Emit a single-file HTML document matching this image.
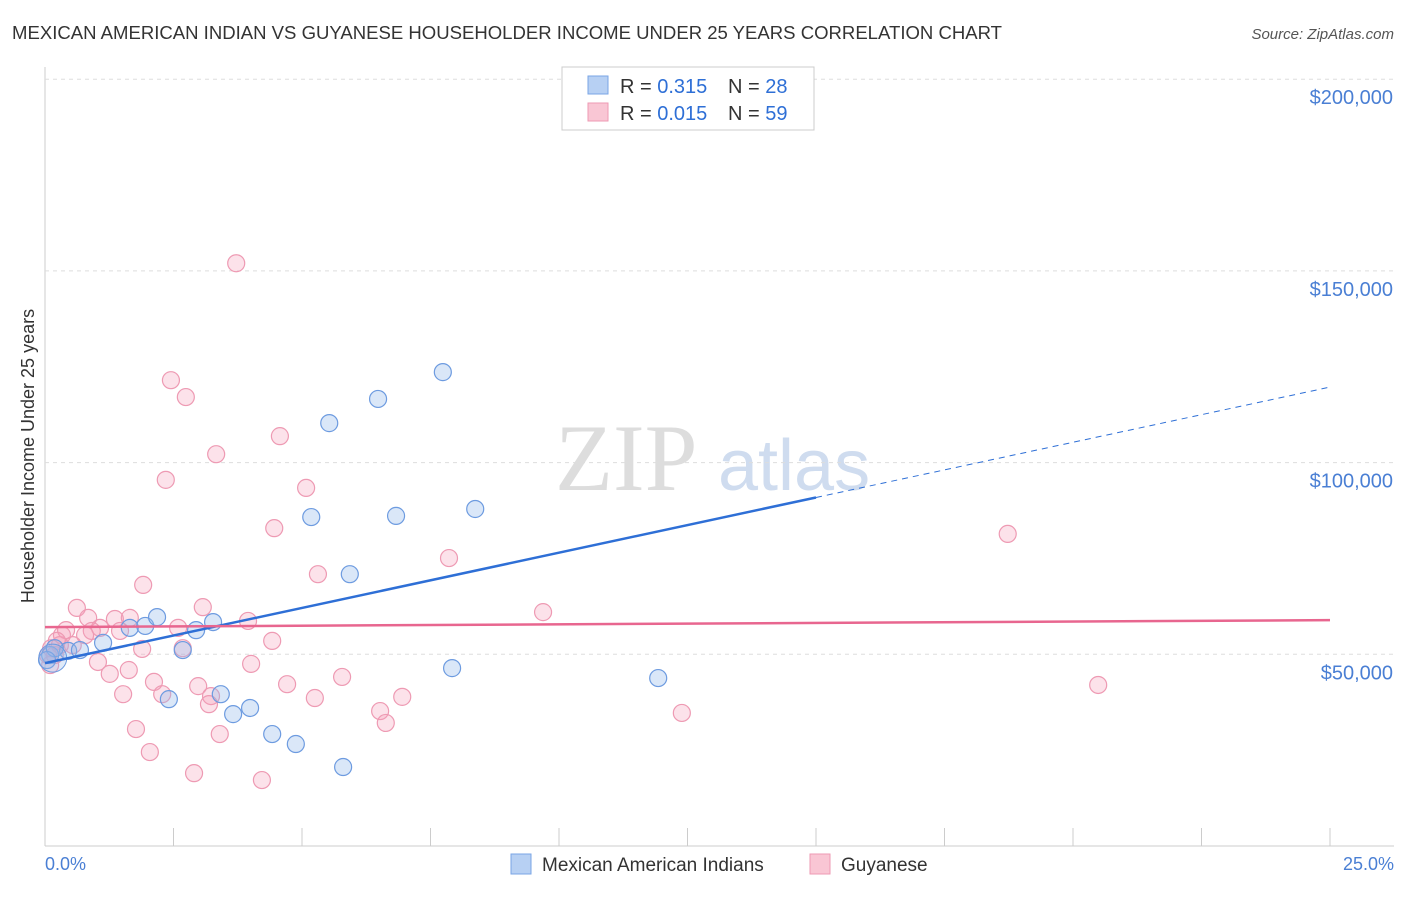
<!DOCTYPE html>
<html><head><meta charset="utf-8"><style>
body{margin:0;background:#fff;font-family:"Liberation Sans",sans-serif;}
#wrap{position:relative;width:1406px;height:892px;}
</style></head><body>
<div id="wrap">
<svg id="svg" width="1406" height="892" xmlns="http://www.w3.org/2000/svg">
<text x="12" y="39" font-size="18" fill="#333" textLength="990" lengthAdjust="spacingAndGlyphs">MEXICAN AMERICAN INDIAN VS GUYANESE HOUSEHOLDER INCOME UNDER 25 YEARS CORRELATION CHART</text>
<text x="1394" y="39" font-size="15" fill="#555" font-style="italic" text-anchor="end">Source: ZipAtlas.com</text>
<text x="34" y="456" font-size="18" fill="#333" text-anchor="middle" transform="rotate(-90 34 456)">Householder Income Under 25 years</text>
<text x="555" y="490" font-size="95" fill="#ddd" font-family="Liberation Serif">ZIP</text>
<text x="718" y="490" font-size="72" fill="#cfdcef">atlas</text>
<g id="grid"></g><g id="pts"></g><g id="lines"></g>
<text x="45" y="870" font-size="18" fill="#4a7fd4">0.0%</text>
<text x="1394" y="870" font-size="18" fill="#4a7fd4" text-anchor="end">25.0%</text>
<g>
<rect x="562" y="67" width="252" height="63" fill="#fff" stroke="#ccc"/>
<rect x="588" y="76" width="20" height="18" fill="#b7d0f3" stroke="#7aa5e6"/>
<rect x="588" y="103" width="20" height="18" fill="#f9c6d4" stroke="#ee9ab3"/>
<text x="620" y="93" font-size="20" fill="#333">R = <tspan fill="#2e6fd6">0.315</tspan></text>
<text x="728" y="93" font-size="20" fill="#333">N = <tspan fill="#2e6fd6">28</tspan></text>
<text x="620" y="120" font-size="20" fill="#333">R = <tspan fill="#2e6fd6">0.015</tspan></text>
<text x="728" y="120" font-size="20" fill="#333">N = <tspan fill="#2e6fd6">59</tspan></text>
</g>
<g>
<rect x="511" y="854" width="20" height="20" fill="#b7d0f3" stroke="#7aa5e6"/>
<text x="542" y="871" font-size="19" fill="#333">Mexican American Indians</text>
<rect x="810" y="854" width="20" height="20" fill="#f9c6d4" stroke="#ee9ab3"/>
<text x="841" y="871" font-size="19" fill="#333">Guyanese</text>
</g>
</svg></div>
<script>
const yTicks=[50000,100000,150000,200000];
const yTickLabels=["$50,000","$100,000","$150,000","$200,000"];
const blueX=[0.10,0.45,1.13,1.65,1.95,2.18,2.41,2.68,2.94,3.27,3.42,3.66,3.99,4.42,4.88,5.18,5.53,5.80,5.93,6.48,6.83,7.74,7.92,8.37,11.93,0.19,0.68,0.04];
const blueY=[49.8,50.9,53.0,56.9,57.4,59.7,38.3,51.1,56.3,58.4,39.6,34.4,36.0,29.2,26.6,85.8,110.3,20.6,70.9,116.6,86.1,123.6,46.4,87.9,43.8,51.6,51.1,48.5];
const pinkX=[3.72,2.45,2.74,3.33,4.57,2.35,5.08,4.46,7.86,5.31,1.91,0.62,3.07,9.69,3.95,0.84,1.36,1.65,2.59,1.07,0.91,1.46,0.33,0.78,0.29,0.54,0.12,1.89,2.68,0.19,1.03,4.01,1.63,1.26,2.12,2.98,4.71,5.78,2.28,1.52,3.23,5.25,6.95,3.19,6.52,6.63,1.77,3.40,2.04,2.90,4.22,12.39,18.73,20.49,4.42,0.10,0.41,0.23,0.06];
const pinkY=[152.0,121.5,117.1,102.2,106.9,95.5,93.4,82.9,75.1,70.9,68.1,62.1,62.3,61.0,58.7,59.5,59.2,59.5,56.9,56.9,56.1,56.1,55.0,55.0,52.4,52.4,51.6,51.4,51.6,49.8,48.0,47.5,45.9,44.9,42.8,41.7,42.2,44.1,39.6,39.6,39.1,38.6,38.9,37.0,35.2,32.1,30.5,29.2,24.5,19.0,17.2,34.7,81.4,42.0,53.5,47.2,56.3,53.5,49.8];
const blueTrend=[47.7,2.88];
const pinkTrend=[57.1,0.072];
const X=v=>45+v/25*1285;
const Y=v=>846-v/50000*191.7;
const NS="http://www.w3.org/2000/svg";
function mk(t,a,p){const e=document.createElementNS(NS,t);for(const k in a)e.setAttribute(k,a[k]);p.appendChild(e);return e;}
const grid=document.getElementById('grid');
mk('line',{x1:45,y1:67,x2:45,y2:846,stroke:'#ccc'},grid);
mk('line',{x1:45,y1:846,x2:1394,y2:846,stroke:'#ccc'},grid);
for(let i=1;i<=10;i++){const l=mk('line',{x1:X(i*2.5),y1:828,x2:X(i*2.5),y2:846,stroke:'#ccc'},grid);

}
yTicks.forEach((v,i)=>{const l=mk('line',{x1:45,y1:Y(v),x2:1394,y2:Y(v),stroke:'#ddd','stroke-dasharray':'4,4'},grid);


const t=mk('text',{x:1393,y:Y(v)+25,'font-size':20,fill:'#4a7fd4','text-anchor':'end'},grid);t.textContent=yTickLabels[i];

});
const pts=document.getElementById('pts');
pinkX.forEach((x,i)=>{const c=mk('circle',{cx:X(x),cy:Y(pinkY[i]*1000),r:8.5,fill:'rgba(244,160,186,0.3)',stroke:'#ee9ab3','stroke-width':1.2},pts);

});
blueX.forEach((x,i)=>{const c=mk('circle',{cx:X(x),cy:Y(blueY[i]*1000),r:8.5,fill:'rgba(150,185,235,0.35)',stroke:'#6d9be0','stroke-width':1.2},pts);

});
const big=mk('circle',{cx:X(0.15),cy:Y(49000),r:14,fill:'rgba(150,185,235,0.3)',stroke:'#6d9be0'},pts);


const lines=document.getElementById('lines');
const bt=x=>(blueTrend[0]+blueTrend[1]*x)*1000, pt=x=>(pinkTrend[0]+pinkTrend[1]*x)*1000;
const b1=mk('line',{x1:X(0),y1:Y(bt(0)),x2:X(15),y2:Y(bt(15)),stroke:'#2e6fd6','stroke-width':2.5},lines);


const b2=mk('line',{x1:X(15),y1:Y(bt(15)),x2:X(25),y2:Y(bt(25)),stroke:'#2e6fd6','stroke-width':1,'stroke-dasharray':'6,5'},lines);


const p1=mk('line',{x1:X(0),y1:Y(pt(0)),x2:X(25),y2:Y(pt(25)),stroke:'#e8668f','stroke-width':2.5},lines);


</script>
</body></html>
